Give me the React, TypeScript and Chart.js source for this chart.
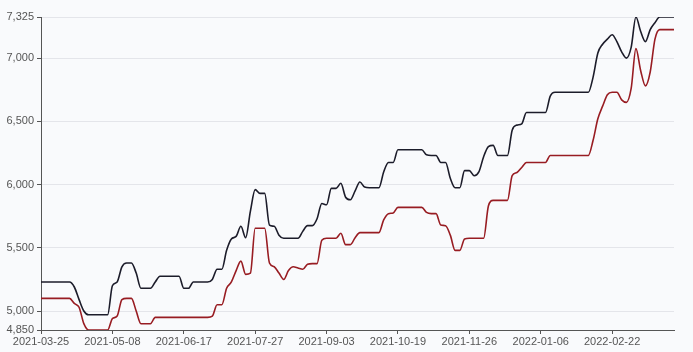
import React, { useEffect, useRef } from "react";
import { Chart, registerables } from "chart.js";

Chart.register(...registerables);

const tickDates = [
  "2021-03-25", "2021-05-08", "2021-06-17", "2021-07-27", "2021-09-03",
  "2021-10-19", "2021-11-26", "2022-01-06", "2022-02-22",
];
const pointsPerTick = 15;

const yTicks = [4850, 5000, 5500, 6000, 6500, 7000, 7325];

// upper (dark) series
const blackSeries = [
  5230, 5230, 5230, 5230, 5230, 5230, 5230, 5190, 5090, 5000,
  4970, 4970, 4970, 4970, 4970, 5200, 5230, 5350, 5380, 5380,
  5300, 5180, 5180, 5180, 5230, 5275, 5275, 5275, 5275, 5275,
  5180, 5180, 5230, 5230, 5230, 5230, 5250, 5330, 5330, 5480,
  5570, 5590, 5670, 5580, 5790, 5960, 5930, 5930, 5680, 5670,
  5600, 5575, 5575, 5575, 5575, 5630, 5675, 5675, 5730, 5850,
  5840, 5970, 5970, 6010, 5900, 5880, 5950, 6020, 5980, 5975,
  5975, 5975, 6100, 6175, 6175, 6275, 6275, 6275, 6275, 6275,
  6275, 6235, 6230, 6230, 6175, 6175, 6050, 5975, 5975, 6110,
  6110, 6070, 6100, 6220, 6300, 6310, 6230, 6230, 6230, 6430,
  6470, 6480, 6570, 6570, 6570, 6570, 6570, 6700, 6730, 6730,
  6730, 6730, 6730, 6730, 6730, 6730, 6850, 7040, 7110, 7150,
  7185, 7130, 7050, 7000, 7085, 7325, 7210, 7130, 7225, 7280,
  7325, 7325, 7325, 7325,
];

// lower (red) series
const redSeries = [
  5100, 5100, 5100, 5100, 5100, 5100, 5100, 5060, 5030, 4900,
  4850, 4850, 4850, 4850, 4850, 4940, 4960, 5090, 5100, 5100,
  5000, 4900, 4900, 4900, 4950, 4950, 4950, 4950, 4950, 4950,
  4950, 4950, 4950, 4950, 4950, 4950, 4960, 5050, 5050, 5180,
  5230, 5320, 5395, 5290, 5300, 5655, 5655, 5655, 5380, 5350,
  5300, 5250, 5320, 5350, 5340, 5330, 5370, 5375, 5375, 5560,
  5575, 5575, 5575, 5615, 5525, 5525, 5580, 5620, 5620, 5620,
  5620, 5620, 5720, 5770, 5775, 5820, 5820, 5820, 5820, 5820,
  5820, 5780, 5770, 5770, 5680, 5675, 5600, 5480, 5480, 5570,
  5575, 5575, 5575, 5575, 5830, 5875, 5875, 5875, 5875, 6070,
  6095, 6135, 6175, 6175, 6175, 6175, 6175, 6230, 6230, 6230,
  6230, 6230, 6230, 6230, 6230, 6230, 6350, 6520, 6620, 6710,
  6730, 6730, 6670, 6650, 6760, 7075, 6900, 6780, 6890, 7150,
  7225, 7225, 7225, 7225,
];

const labels = blackSeries.map((_, i) =>
  i % pointsPerTick === 0 ? tickDates[i / pointsPerTick] ?? "" : ""
);

export default function App() {
  const ref = useRef<HTMLCanvasElement | null>(null);

  useEffect(() => {
    document.body.style.margin = "0";
    const ctx = ref.current;
    if (!ctx) return;
    const font = { family: "'Liberation Sans', Arial, sans-serif", size: 11 };
    const chart = new Chart(ctx, {
      type: "line",
      data: {
        labels,
        datasets: [
          {
            data: blackSeries,
            borderColor: "#1c1c2a",
            borderWidth: 1.6,
            pointRadius: 0,
            cubicInterpolationMode: "monotone",
            fill: false,
          },
          {
            data: redSeries,
            borderColor: "#981c22",
            borderWidth: 1.6,
            pointRadius: 0,
            cubicInterpolationMode: "monotone",
            fill: false,
          },
        ],
      },
      options: {
        animation: false,
        responsive: true,
        maintainAspectRatio: false,
        layout: { padding: { top: 17, right: 19, left: 0, bottom: 0 } },
        plugins: {
          legend: { display: false },
          tooltip: { enabled: false },
        },
        scales: {
          x: {
            type: "category",
            offset: false,
            border: { display: true, color: "#555", width: 1 },
            grid: {
              display: true,
              drawOnChartArea: false,
              drawTicks: true,
              tickLength: 4,
              tickColor: "#555",
            },
            ticks: {
              autoSkip: false,
              maxRotation: 0,
              minRotation: 0,
              padding: 1,
              color: "#555",
              font,
            },
            afterBuildTicks: (scale: any) => {
              scale.ticks = scale.ticks.filter(
                (t: any) => t.value % pointsPerTick === 0
              );
            },
            afterFit: (scale: any) => {
              scale.height = 22;
            },
          },
          y: {
            min: yTicks[0],
            max: yTicks[yTicks.length - 1],
            border: { display: true, color: "#555", width: 1 },
            grid: {
              color: "#e4e5ea",
              tickColor: "#555",
              tickLength: 4,
              drawTicks: true,
            },
            ticks: {
              autoSkip: false,
              padding: 3,
              color: "#555",
              font,
              callback: (v: any) => Number(v).toLocaleString("en-US"),
            },
            afterBuildTicks: (scale: any) => {
              scale.ticks = yTicks.map((v) => ({ value: v }));
            },
            afterFit: (scale: any) => {
              scale.width = 41;
            },
          },
        },
      },
    });
    return () => chart.destroy();
  }, []);

  return (
    <div
      style={{
        position: "absolute",
        left: 0,
        top: 0,
        width: 693,
        height: 352,
        background: "#f9fafc",
      }}
    >
      <canvas ref={ref} />
    </div>
  );
}
